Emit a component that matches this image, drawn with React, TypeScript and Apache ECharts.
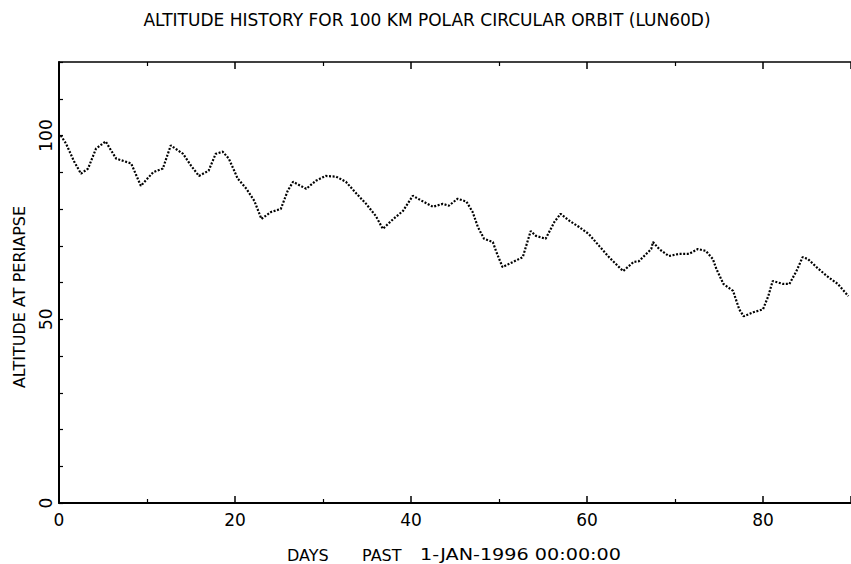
import React, { useEffect, useRef } from "react";
import * as echarts from "echarts";

const TITLE = "ALTITUDE HISTORY FOR 100 KM POLAR CIRCULAR ORBIT (LUN60D)";
const Y_NAME = "ALTITUDE AT PERIAPSE";
const X_NAME_PARTS = ["DAYS", "PAST", "1-JAN-1996 00:00:00"];

const days = [
  0.2, 0.8, 1.7, 2.5, 3.3, 4.2, 5.3, 5.9, 6.5, 8.2, 9.3, 10.7, 11.8, 12.7, 14.1, 15.0, 15.9, 17.0, 17.8, 18.6,
  19.3, 20.3, 21.3, 22.2, 23.0, 24.1, 25.2, 26.0, 26.6, 28.1, 29.2, 30.3, 31.5, 32.6, 33.8, 34.9, 36.0, 36.8,
  38.0, 39.1, 40.2, 41.4, 42.5, 43.6, 44.3, 45.3, 46.3, 47.0, 47.6, 48.3, 49.3, 49.7, 50.4, 51.6, 52.7, 53.6,
  54.2, 55.3, 56.3, 57.0, 58.0, 59.1, 60.2, 61.4, 62.5, 64.1, 65.3, 65.9, 67.3, 67.5, 68.2, 69.3, 70.5, 71.6,
  72.6, 73.5, 74.3, 74.7, 75.5, 76.6, 77.3, 77.8, 78.9, 80.0, 80.6, 81.1, 82.3, 83.0, 83.8, 84.5, 85.1, 86.3,
  87.4, 88.5, 89.7,
];
const altitude = [
  100, 97.8, 93, 89.6, 91, 96.4, 98.4, 96, 93.7, 92.4, 86.3, 90, 91, 97.3, 95, 91.8, 89, 90.4, 95, 95.6,
  93.7, 88.3, 85.5, 82.2, 77.3, 79.2, 80, 85, 87.4, 85.5, 87.7, 89, 88.8, 87.4, 84.2, 81.4, 78.1, 74.6,
  77.3, 79.5, 83.6, 82, 80.6, 81.4, 80.9, 82.8, 82, 79.2, 75.1, 71.9, 71, 68.3, 64.2, 65.6, 66.9, 74,
  72.7, 71.9, 76.5, 78.7, 76.8, 75.1, 73.2, 69.9, 66.9, 63.1, 65.6, 65.8, 69.1, 71, 69.1, 67.2, 67.8, 67.8,
  69.1, 68.6, 66.4, 63.7, 59.6, 57.7, 52.7, 50.8, 51.9, 52.7, 56.3, 60.4, 59.6, 59.6, 63.1, 66.9, 66.4, 63.7,
  61.5, 59.6, 56.3,
];
const yLabels = [0, 50, 100];

const FONT = "DejaVu Sans";

export default function App() {
  const ref = useRef<HTMLDivElement>(null);
  useEffect(() => {
    document.body.style.margin = "0";
    const chart = echarts.init(ref.current!, null, { renderer: "svg" });
    const axisLine = { show: true, lineStyle: { color: "#000", width: 2 } };
    const baseX = {
      type: "value" as const,
      min: 0,
      max: 90,
      interval: 20,
      splitLine: { show: false },
      axisLine,
      axisTick: { show: true, inside: true, length: 7, lineStyle: { color: "#000", width: 1.5 } },
      minorTick: { show: true, splitNumber: 2, length: 4, lineStyle: { color: "#000", width: 1.2 } },
    };
    chart.setOption({
      animation: false,
      backgroundColor: "#fff",
      grid: { left: 59, right: 0, top: 62, bottom: 61, containLabel: false },
      xAxis: [
        {
          ...baseX,
          position: "bottom",
          axisLabel: {
            show: true,
            color: "#000",
            fontFamily: FONT,
            fontSize: 17,
            margin: 8,
            showMaxLabel: false,
            formatter: (v: number) => (v % 20 === 0 ? String(v) : ""),
          },
        },
        {
          ...baseX,
          position: "top",
          axisLine: { show: true, lineStyle: { color: "#000", width: 1.5 } },
          axisLabel: { show: false },
        },
      ],
      yAxis: [
        {
          type: "value",
          min: 0,
          max: 120,
          interval: 10,
          splitLine: { show: false },
          axisLine,
          axisTick: { show: true, inside: true, length: 4, lineStyle: { color: "#000", width: 1.2 } },
          axisLabel: {
            show: true,
            rotate: 90,
            color: "#000",
            fontFamily: FONT,
            fontSize: 17,
            margin: 5,
            formatter: (v: number) => (yLabels.includes(v) ? String(v) : ""),
          },
        },
      ],
      graphic: [
        {
          type: "text",
          x: 427,
          y: 20,
          style: { text: TITLE, fill: "#000", font: `17px ${FONT}`, align: "center", verticalAlign: "middle" },
        },
        {
          type: "text",
          x: 19,
          y: 297,
          rotation: Math.PI / 2,
          style: {
            text: Y_NAME,
            fill: "#000",
            font: `16px ${FONT}`,
            align: "center",
            verticalAlign: "middle",
          },
        },
        {
          type: "text",
          x: 287,
          y: 555,
          style: { text: X_NAME_PARTS[0], fill: "#000", font: `16px ${FONT}`, align: "left", verticalAlign: "middle" },
        },
        {
          type: "text",
          x: 362,
          y: 555,
          style: { text: X_NAME_PARTS[1], fill: "#000", font: `16px ${FONT}`, align: "left", verticalAlign: "middle" },
        },
        {
          type: "text",
          x: 420,
          y: 555,
          scaleX: 1.2,
          style: { text: X_NAME_PARTS[2], fill: "#000", font: `16px ${FONT}`, align: "left", verticalAlign: "middle" },
        },
      ],
      series: [
        {
          type: "line",
          data: days.map((d, i) => [d, altitude[i]]),
          showSymbol: false,
          smooth: false,
          lineStyle: { color: "#000", width: 2.2, type: [2, 1.6] },
        },
      ],
    });
    return () => chart.dispose();
  }, []);
  return <div ref={ref} style={{ width: 851, height: 564 }} />;
}
